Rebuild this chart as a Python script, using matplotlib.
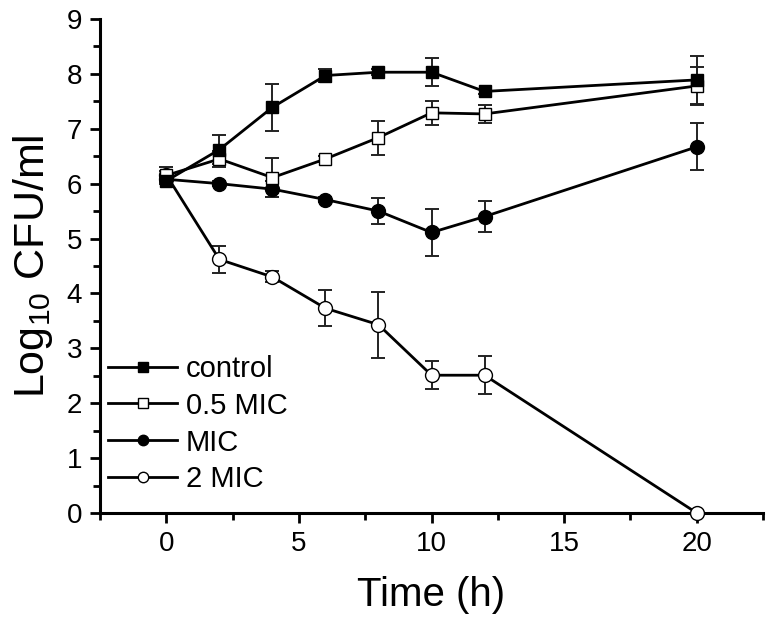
import matplotlib.pyplot as plt
from matplotlib.ticker import MultipleLocator

plt.rcParams['font.family'] = ['Liberation Sans', 'DejaVu Sans']

# time points (h)
time = [0, 2, 4, 6, 8, 10, 12, 20]

# log10 CFU/ml means and error bars
control = [6.05, 6.62, 7.39, 7.97, 8.03, 8.03, 7.68, 7.89]
control_err = [0.06, 0.27, 0.43, 0.12, 0.05, 0.26, 0.05, 0.44]
half_mic = [6.15, 6.45, 6.11, 6.45, 6.84, 7.29, 7.27, 7.78]
half_mic_err = [0.08, 0.14, 0.36, 0.05, 0.31, 0.22, 0.17, 0.35]
mic = [6.08, 6.00, 5.90, 5.71, 5.50, 5.11, 5.40, 6.67]
mic_err = [0.05, 0.04, 0.15, 0.04, 0.23, 0.42, 0.28, 0.43]
two_mic = [6.16, 4.62, 4.30, 3.73, 3.43, 2.51, 2.51, 0.0]
two_mic_err = [0.14, 0.24, 0.10, 0.33, 0.60, 0.26, 0.35, 0.0]

series = [
    ("control", control, control_err, 's', 'black'),
    ("0.5 MIC", half_mic, half_mic_err, 's', 'white'),
    ("MIC", mic, mic_err, 'o', 'black'),
    ("2 MIC", two_mic, two_mic_err, 'o', 'white'),
]

fig = plt.figure(figsize=(7.71, 6.24), dpi=100)
ax = fig.add_axes([0.1297, 0.1779, 0.86, 0.7917])

handles = []
for label, vals, err, marker, face in reversed(series):
    ax.errorbar(time, vals, yerr=err, fmt='none', ecolor='#222222',
                elinewidth=1.4, capsize=5, capthick=1.4, zorder=2)
for label, vals, err, marker, face in reversed(series):
    ms = 9 if marker == 's' else 10
    h, = ax.plot(time, vals, color='black', lw=2, marker=marker, ms=ms,
                 mfc=face, mec='black', mew=1, label=label, zorder=3,
                 clip_on=False)
    handles.append(h)
handles = handles[::-1]

ax.set_xlim(-2.5, 22.5)
ax.set_ylim(0, 9)
ax.xaxis.set_major_locator(MultipleLocator(5))
ax.xaxis.set_minor_locator(MultipleLocator(2.5))
ax.yaxis.set_major_locator(MultipleLocator(1))
ax.yaxis.set_minor_locator(MultipleLocator(0.5))

for side in ['top', 'right']:
    ax.spines[side].set_visible(False)
for side in ['left', 'bottom']:
    ax.spines[side].set_linewidth(2.2)

ax.tick_params(which='major', direction='out', length=7, width=2,
               labelsize=20, pad=6)
ax.tick_params(which='minor', direction='out', length=5, width=2)

ax.set_xlabel('Time (h)', fontsize=29, labelpad=14)
ax.set_ylabel(r'$\mathregular{Log_{10}}$ CFU/ml', fontsize=31, labelpad=8)

leg = ax.legend(handles=handles, loc='lower left',
                bbox_to_anchor=(-0.005, 0.016), frameon=False, fontsize=21,
                handlelength=2.35, handletextpad=0.3, labelspacing=0.305,
                borderaxespad=0, markerscale=0.75)

fig.savefig('out.png', dpi=100)
